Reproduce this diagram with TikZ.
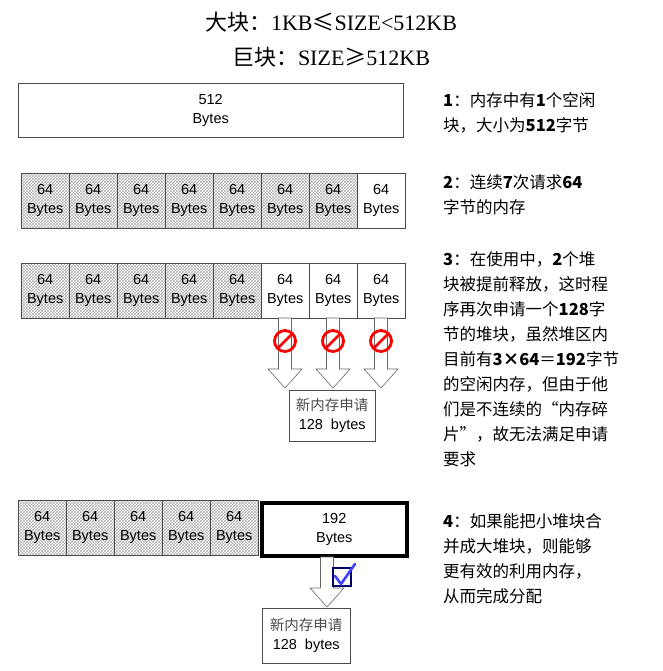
\documentclass[tikz,border=0pt]{standalone}
\usepackage{fontspec}
\setmainfont{Liberation Sans}
\newfontfamily\cjk{Noto Sans CJK SC}
\newfontfamily\titlelat{Liberation Serif}
\usetikzlibrary{patterns}
\tikzset{
 cell/.style={draw=black!70,minimum width=48pt,minimum height=55pt,inner sep=0pt,font=\fontsize{14.5}{19}\selectfont,align=center,anchor=north west},
 used/.style={cell,pattern=crosshatch,pattern color=black!30},
 note/.style={anchor=north west,align=left,font=\cjk\fontsize{16.5}{25}\selectfont,inner sep=0pt},
 req/.style={draw=black!70,fill=white,align=center,inner sep=0pt,anchor=north west,font=\fontsize{14.5}{19}\selectfont},
 arr/.style={draw=black!60,fill=white,line width=0.6pt}
}
\newcommand{\darrow}[4]{\draw[arr] (#1-6.5,#2)--(#1+6.5,#2)--(#1+6.5,#3)--(#1+17,#3)--(#1,#4)--(#1-17,#3)--(#1-6.5,#3)--cycle;}
\begin{document}
\begin{tikzpicture}[x=1pt,y=-1pt]
\useasboundingbox (0,0) rectangle (662,671);
\node[font=\fontsize{22}{28}\selectfont] (t1) at (331,22) {{\cjk 大块：}\titlelat 1KB{\cjk ≤}SIZE<512KB};
\node[font=\fontsize{22}{28}\selectfont] (t2) at (331,57) {{\cjk 巨块：}\titlelat SIZE{\cjk ≥}512KB};
% row1
\node[cell,minimum width=385pt,minimum height=54pt] (r1) at (18,83) {512\\Bytes};
% row2
\foreach \i in {0,...,6}{\node[used] (b\i) at (21+48*\i,173) {64\\Bytes};}
\node[cell] (b7) at (357,173) {64\\Bytes};
% row3
\foreach \i in {0,...,4}{\node[used] (c\i) at (21+48*\i,263) {64\\Bytes};}
\foreach \i in {5,6,7}{\node[cell] (c\i) at (21+48*\i,263) {64\\Bytes};}
\foreach \i in {5,6,7}{
 \darrow{45+48*\i}{318}{369}{388}
 \draw[red,line width=2.8pt] (45+48*\i,341) circle (10.5);
 \draw[red,line width=2.8pt] (45+48*\i-7.4,341+7.4)--(45+48*\i+7.4,341-7.4);
}
\node[req,minimum width=86pt,minimum height=51pt] (q1) at (289,390) {{\cjk\color{black!70}新内存申请}\\128\ \ bytes};
% row4
\foreach \i in {0,...,4}{\node[used] (d\i) at (18+48*\i,500) {64\\Bytes};}
\node[cell,draw=black,line width=3.5pt,minimum width=145pt,minimum height=53pt,anchor=north west] (big) at (260,501) {192\\Bytes};
\darrow{327}{557}{588}{607}
\node[draw=blue!40!black,line width=1.8pt,fill=white,minimum size=18pt,inner sep=0pt] (chk) at (342,577) {};
\draw[blue!75,line width=2.6pt,line cap=round] (335,576)--(341,584)--(355,564);
\node[req,minimum width=88pt,minimum height=55pt] (q2) at (262,608) {{\cjk\color{black!70}新内存申请}\\128\ \ bytes};
% notes
\node[note] (n1) at (443,92) {\textbf{1}：内存中有\textbf{1}个空闲\\块，大小为\textbf{512}字节};
\node[note] (n2) at (443,174) {\textbf{2}：连续\textbf{7}次请求\textbf{64}\\字节的内存};
\node[note] (n3) at (443,251) {\textbf{3}：在使用中，\textbf{2}个堆\\块被提前释放，这时程\\序再次申请一个\textbf{128}字\\节的堆块，虽然堆区内\\目前有\textbf{3×64}＝\textbf{192}字节\\的空闲内存，但由于他\\们是不连续的“内存碎\\片”，故无法满足申请\\要求};
\node[note] (n4) at (443,513) {\textbf{4}：如果能把小堆块合\\并成大堆块，则能够\\更有效的利用内存，\\从而完成分配};
\end{tikzpicture}
\end{document}
